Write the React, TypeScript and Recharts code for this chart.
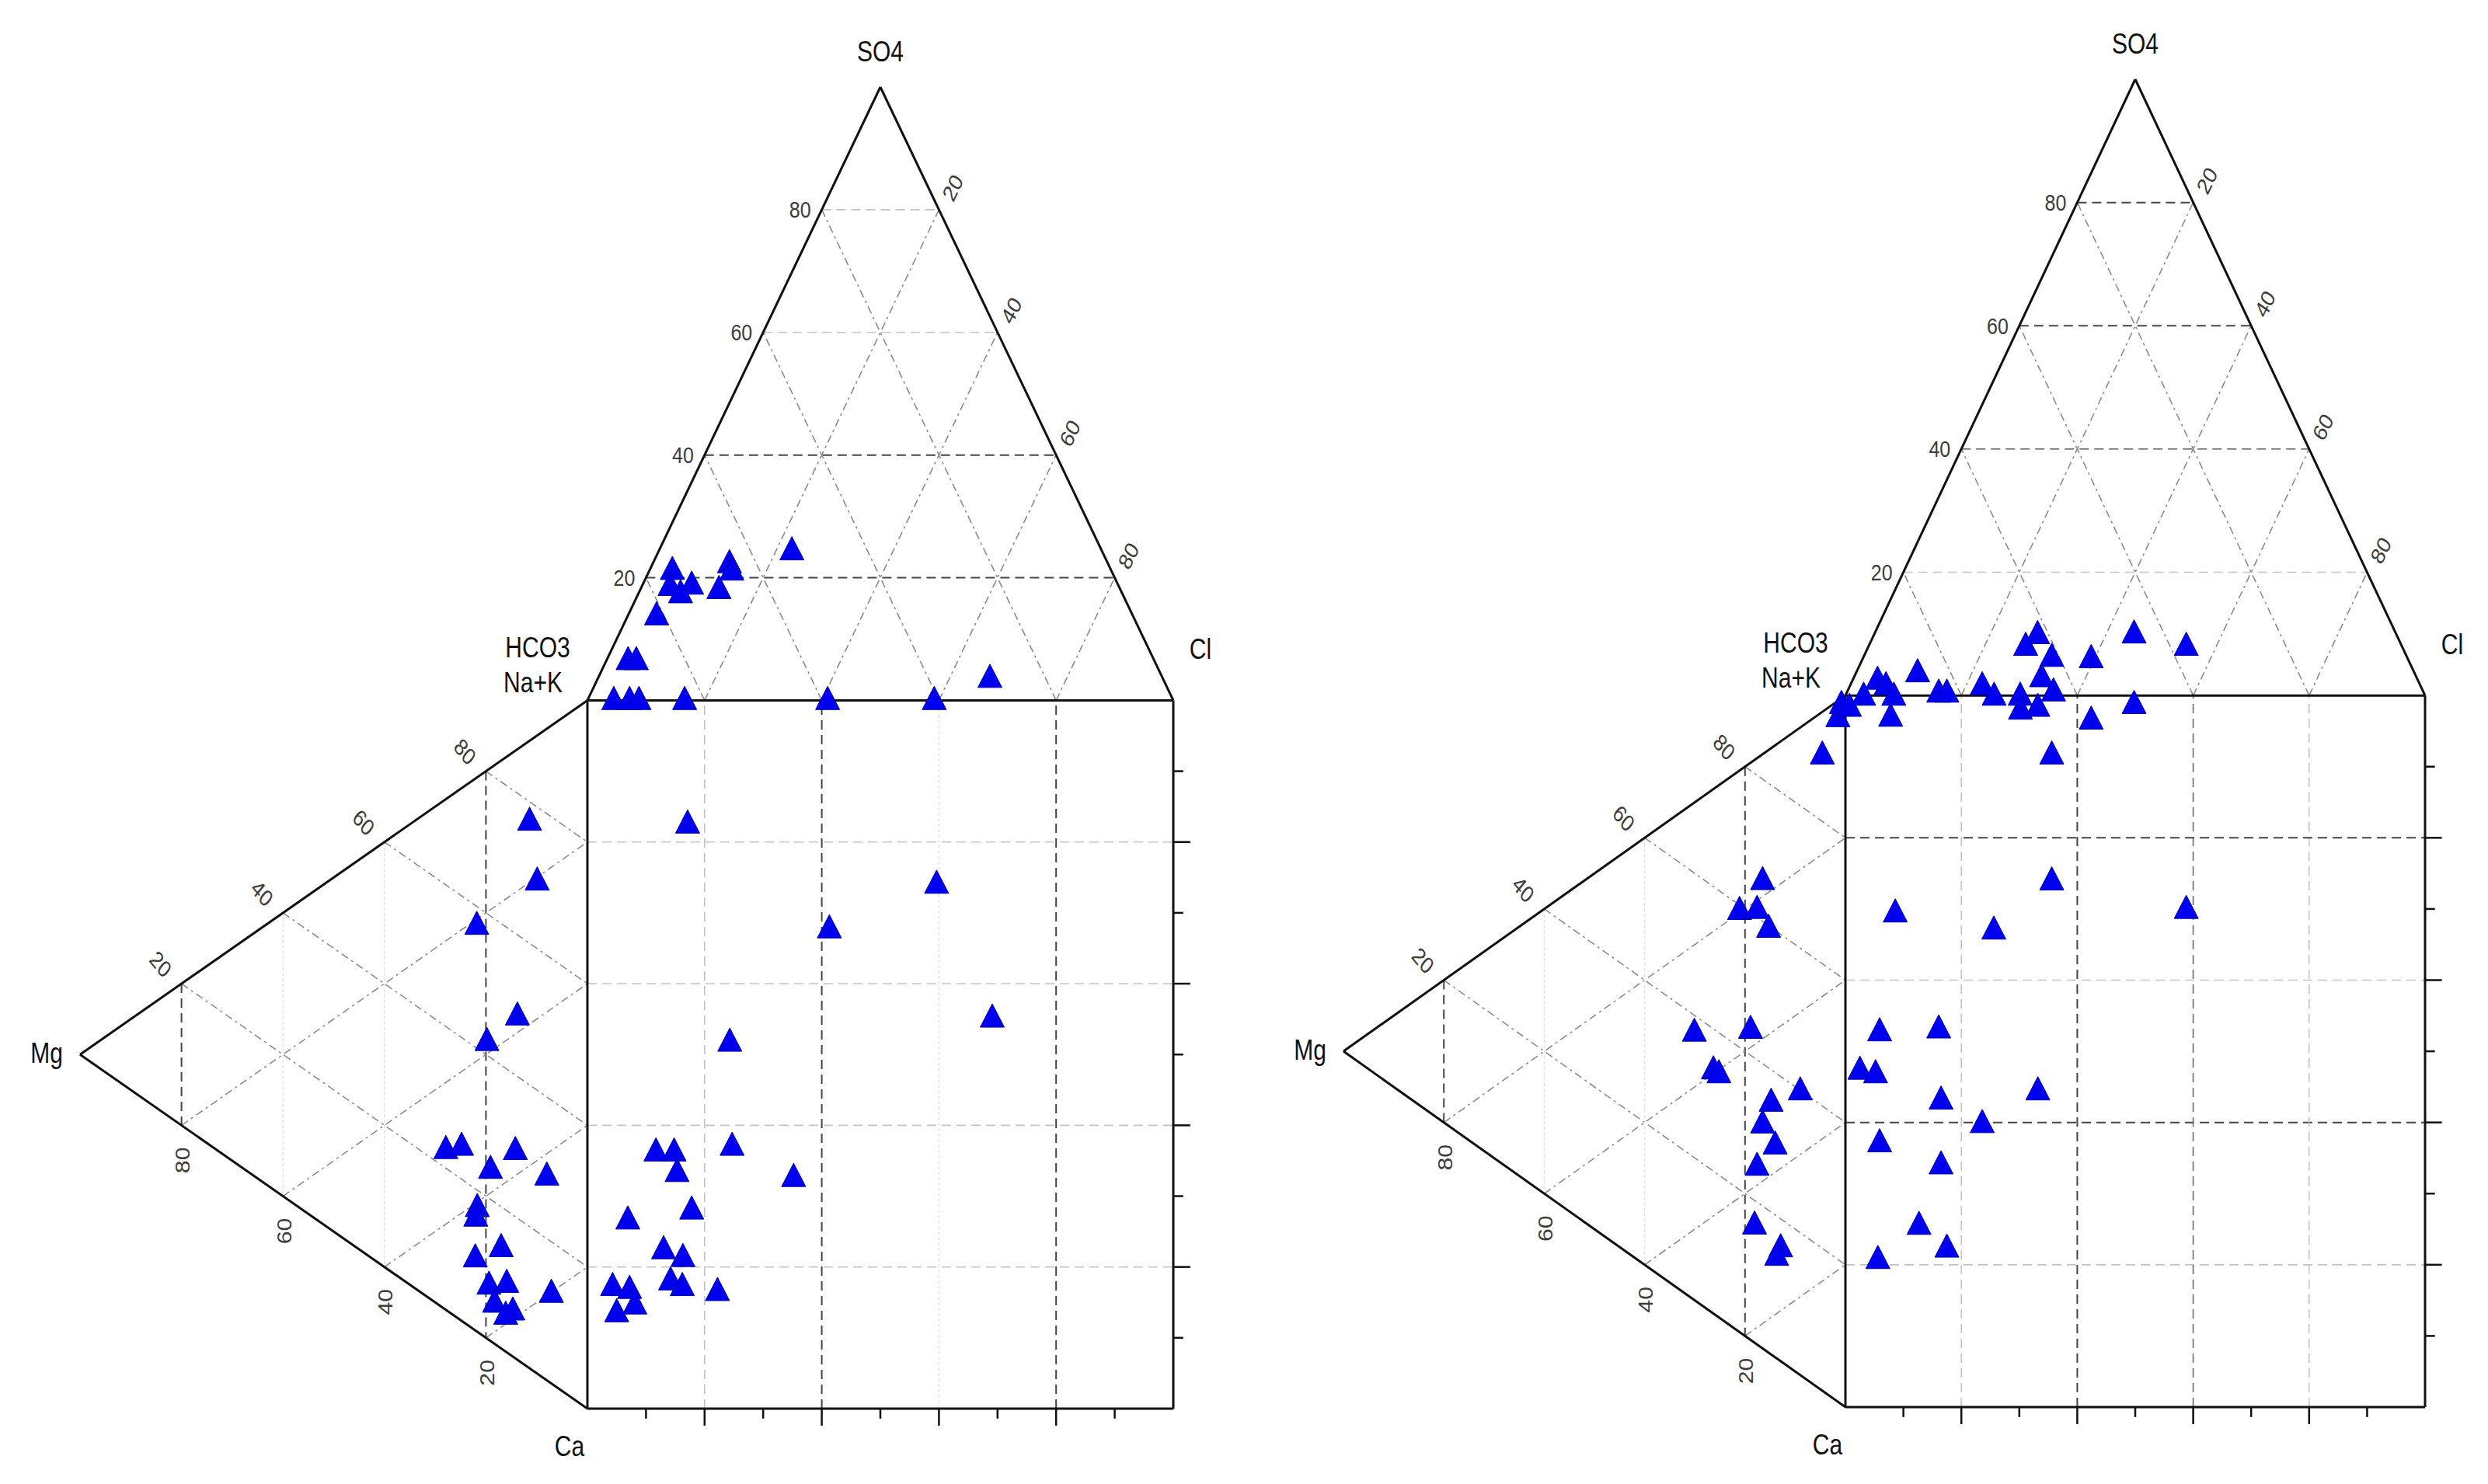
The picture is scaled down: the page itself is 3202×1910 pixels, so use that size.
import React from 'react';
import { ScatterChart, Scatter, XAxis, YAxis, ReferenceLine } from 'recharts';

// Durov layout: square is 0..100 on both axes, anion triangle sits on top,
// cation triangle on the left. H = height of an equilateral triangle of side 100.
const H = 86.6;
const LEVELS = [20, 40, 60, 80];
const LEVEL_LABELS = ['20', '40', '60', '80'];
const MINOR = [10, 30, 50, 70, 90];

// ---- left diagram ----
// cation triangle: [Mg %, Na+K %]
const leftCation = [
  [11.4, 77.6], [9.9, 69.9], [21.8, 57.7], [13.8, 48.9], [19.8, 42.3],
  [27.9, 23.0], [24.8, 25.0], [14.2, 29.7], [19.1, 24.6], [8.0, 29.2],
  [21.7, 17.9], [22.0, 16.4], [17.0, 14.6], [22.1, 10.6], [19.4, 8.1],
  [15.9, 10.1], [7.1, 13.1], [18.3, 6.1], [14.7, 6.8], [16.1, 5.5],
];
// anion triangle: [SO4 %, Cl %]
const leftAnion = [
  [24.8, 22.5], [21.6, 3.7], [19.0, 4.6], [19.2, 8.2], [17.8, 7.0],
  [22.7, 12.9], [21.5, 13.9], [18.5, 13.2], [14.2, 4.7], [6.9, 3.5],
  [6.9, 4.9], [0.4, 4.3], [0.4, 7.0], [0.4, 8.6], [0.4, 16.4],
  [0.4, 40.8], [0.4, 59.0], [4.0, 66.7],
];
// square: [anion position %, cation position %]
const leftSquare = [
  [17.1, 82.9], [59.6, 74.4], [41.3, 68.1], [69.1, 55.5], [24.3, 52.1],
  [24.7, 37.4], [11.7, 36.6], [14.8, 36.6], [15.3, 33.7], [35.2, 33.0],
  [17.8, 28.4], [6.9, 27.0], [13.0, 22.8], [16.3, 21.7], [14.2, 18.4],
  [16.2, 17.6], [22.2, 16.9], [4.3, 17.6], [7.2, 17.2], [8.1, 15.0], [5.0, 13.9],
];

// ---- right diagram ----
const rightCation = [
  [16.5, 66.1], [21.1, 59.6], [17.6, 61.5], [15.3, 60.0], [30.1, 38.0],
  [18.9, 44.0], [26.3, 34.6], [25.2, 34.6], [9.0, 40.3], [14.8, 35.8],
  [16.5, 31.9], [14.0, 30.2], [17.6, 25.4], [18.1, 16.9], [12.9, 16.3],
  [13.7, 14.7], [4.6, 89.7], [1.5, 96.5], [0.8, 98.7],
];
const rightAnion = [
  [10.3, 28.0], [8.4, 26.9], [6.6, 32.3], [6.4, 39.2], [10.4, 44.6],
  [8.4, 54.6], [4.1, 10.4], [2.9, 4.1], [2.0, 6.0], [3.3, 32.2],
  [2.0, 22.6], [1.0, 35.4], [0.3, 3.0], [0.3, 8.2], [0.8, 15.7],
  [0.8, 17.1], [0.3, 25.5], [0.3, 30.0],
];
const rightSquare = [
  [42.4, 96.9], [49.8, 99.1], [35.6, 92.0], [7.8, 97.3], [30.2, 98.3],
  [33.2, 98.7], [0.7, 98.7], [35.6, 74.3], [58.8, 70.3], [8.6, 69.8],
  [25.6, 67.4], [16.1, 53.5], [5.9, 53.1], [2.5, 47.7], [5.2, 47.2],
  [33.2, 44.8], [16.5, 43.5], [23.6, 40.2], [5.9, 37.5], [16.5, 34.4],
  [12.7, 25.9], [17.5, 22.7], [5.6, 21.1],
];

const toCation = ([mg, nak]: number[]) => ({ x: (-H * mg) / 100, y: nak + mg / 2 });
const toAnion = ([so4, cl]: number[]) => ({ x: cl + so4 / 2, y: 100 + (H * so4) / 100 });
const toSquare = ([a, c]: number[]) => ({ x: a, y: c });

const FONT = '"Liberation Sans", Arial, sans-serif';
const STRETCH = 1.21;

const OUTLINE = { stroke: '#111', strokeWidth: 3 };
const DARK = { stroke: '#454545', strokeWidth: 2, strokeDasharray: '12 7' };
const GRAY = { stroke: '#7a7a7a', strokeWidth: 1.8, strokeDasharray: '12 7' };
const MID = { stroke: '#8c8c8c', strokeWidth: 1.6, strokeDasharray: '10 5 3 5' };
const LIGHT = { stroke: '#c4c4c4', strokeWidth: 1.6, strokeDasharray: '12 7' };
const FAINT = { stroke: '#e4e4e4', strokeWidth: 1.5, strokeDasharray: '4 3' };

const leftStyle = {
  so4: [DARK, DARK, LIGHT, LIGHT],
  anionDiag: MID,
  squareV: [LIGHT, DARK, FAINT, DARK],
  squareH: [LIGHT, LIGHT, LIGHT, LIGHT],
  mg: [DARK, FAINT, FAINT, DARK],
  cationDiag: MID,
};
const rightStyle = {
  so4: [LIGHT, GRAY, DARK, DARK],
  anionDiag: MID,
  squareV: [LIGHT, DARK, GRAY, LIGHT],
  squareH: [LIGHT, DARK, LIGHT, DARK],
  mg: [DARK, FAINT, FAINT, DARK],
  cationDiag: MID,
};

type Pt = { x: number; y: number };
type Seg = { p: [Pt, Pt]; s: any };

function gridSegments(style: any): Seg[] {
  const segs: Seg[] = [];
  LEVELS.forEach((v, i) => {
    const f = v / 100;
    // anion triangle
    segs.push({ p: [{ x: 50 * f, y: 100 + H * f }, { x: 100 - 50 * f, y: 100 + H * f }], s: style.so4[i] });
    segs.push({ p: [{ x: 100 * f, y: 100 }, { x: 50 + 50 * f, y: 100 + H * (1 - f) }], s: style.anionDiag });
    segs.push({ p: [{ x: 100 * (1 - f), y: 100 }, { x: 50 * (1 - f), y: 100 + H * (1 - f) }], s: style.anionDiag });
    // square
    segs.push({ p: [{ x: v, y: 0 }, { x: v, y: 100 }], s: style.squareV[i] });
    segs.push({ p: [{ x: 0, y: v }, { x: 100, y: v }], s: style.squareH[i] });
    // cation triangle
    segs.push({ p: [{ x: -H * f, y: 100 - 50 * f }, { x: -H * f, y: 50 * f }], s: style.mg[i] });
    segs.push({ p: [{ x: -H * (1 - f), y: 50 * (1 - f) }, { x: 0, y: 100 * (1 - f) }], s: style.cationDiag });
    segs.push({ p: [{ x: -H * (1 - f), y: 100 * f + 50 * (1 - f) }, { x: 0, y: 100 * f }], s: style.cationDiag });
  });
  return segs;
}

const corners = {
  hco3: { x: 0, y: 100 },
  cl: { x: 100, y: 100 },
  so4: { x: 50, y: 100 + H },
  ca: { x: 0, y: 0 },
  sq: { x: 100, y: 0 },
  mg: { x: -H, y: 50 },
};
const outline: [Pt, Pt][] = [
  [corners.hco3, corners.so4], [corners.so4, corners.cl], [corners.hco3, corners.cl],
  [corners.ca, corners.sq], [corners.sq, corners.cl], [corners.ca, corners.hco3],
  [corners.hco3, corners.mg], [corners.mg, corners.ca],
];

function tickSegments(): Seg[] {
  const segs: Seg[] = [];
  const all = [...MINOR, ...LEVELS];
  all.forEach((v) => {
    const major = LEVELS.includes(v);
    const s = { stroke: '#111', strokeWidth: 2.5 };
    segs.push({ p: [{ x: v, y: 0 }, { x: v, y: major ? -2.4 : -1.4 }], s });
    segs.push({ p: [{ x: 100, y: v }, { x: major ? 102.9 : 101.7, y: v }], s });
  });
  return segs;
}

type Lbl = Pt & { text: string; dx: number; dy: number; angle: number; anchor: string; size: number; fill: string };

function buildLabels(): Lbl[] {
  const L: Lbl[] = [];
  const axis = (p: Pt, text: string, dx: number, dy: number) =>
    L.push({ ...p, text, dx, dy, angle: 0, anchor: 'middle', size: 30, fill: '#111' });
  const tick = (x: number, y: number, text: string, dx: number, dy: number, angle: number, anchor = 'middle') =>
    L.push({ x, y, text, dx, dy, angle, anchor, size: 25, fill: '#3c3c3c' });

  axis(corners.so4, 'SO4', 0, -46);
  axis(corners.cl, 'Cl', 35, -66);
  axis(corners.hco3, 'HCO3', -64, -68);
  axis(corners.hco3, 'Na+K', -70, -23);
  axis(corners.mg, 'Mg', -43, -2);
  axis(corners.ca, 'Ca', -23, 48);

  LEVELS.forEach((v, i) => {
    const f = v / 100;
    const t = LEVEL_LABELS[i];
    tick(50 * f, 100 + H * f, t, -14, 0, 0, 'end'); // SO4 on left edge of anion triangle
    tick(50 + 50 * f, 100 + H * (1 - f), t, 18, -28, -60); // Cl on right edge
    tick(-H * (1 - f), 50 + 50 * f, t, -27, -25, 45); // Na+K on upper edge of cation triangle
    tick(-H * f, 50 * f, t, 2, 45, -90); // Mg on lower edge
  });
  return L;
}

const Tri = (props: any) => {
  const { cx, cy } = props;
  if (cx == null || cy == null) return <g />;
  return (
    <polygon
      points={`${cx},${cy - 15} ${cx - 15.5},${cy + 15} ${cx + 15.5},${cy + 15}`}
      fill="#0000ee"
      stroke="#0000a8"
      strokeWidth={1}
    />
  );
};

const LabelShape = (props: any) => {
  const { cx, cy, payload } = props;
  const l = payload as Lbl;
  return (
    <text
      transform={`translate(${cx + l.dx},${cy + l.dy}) scale(1,${STRETCH}) rotate(${l.angle})`}
      textAnchor={l.anchor as any}
      dominantBaseline="central"
      fontSize={l.size}
      fontFamily={FONT}
      fill={l.fill}
    >
      {l.text}
    </text>
  );
};

function Durov(props: {
  width: number;
  height: number;
  margin: { top: number; right: number; bottom: number; left: number };
  style: any;
  cation: number[][];
  anion: number[][];
  square: number[][];
}) {
  const { width, height, margin, style, cation, anion, square } = props;
  const grid = gridSegments(style);
  const ticks = tickSegments();
  const labels = buildLabels();
  return (
    <ScatterChart width={width} height={height} margin={margin}>
      <XAxis type="number" dataKey="x" domain={[-H, 100]} hide />
      <YAxis type="number" dataKey="y" domain={[0, 100 + H]} hide />
      {grid.map((g, i) => (
        <ReferenceLine key={`g${i}`} segment={g.p} ifOverflow="visible" {...g.s} />
      ))}
      {outline.map((p, i) => (
        <ReferenceLine key={`o${i}`} segment={p} ifOverflow="visible" {...OUTLINE} />
      ))}
      {ticks.map((t, i) => (
        <ReferenceLine key={`t${i}`} segment={t.p} ifOverflow="visible" {...t.s} />
      ))}
      <Scatter data={labels} shape={LabelShape} isAnimationActive={false} />
      <Scatter data={cation.map(toCation)} shape={Tri} isAnimationActive={false} />
      <Scatter data={anion.map(toAnion)} shape={Tri} isAnimationActive={false} />
      <Scatter data={square.map(toSquare)} shape={Tri} isAnimationActive={false} />
    </ScatterChart>
  );
}

export default function App() {
  return (
    <div style={{ position: 'absolute', left: 0, top: 0, width: 3202, height: 1910, background: '#fff' }}>
      <div style={{ position: 'absolute', left: 0, top: 0 }}>
        <Durov
          width={1600}
          height={1910}
          margin={{ top: 112, right: 90, bottom: 97, left: 103 }}
          style={leftStyle}
          cation={leftCation}
          anion={leftAnion}
          square={leftSquare}
        />
      </div>
      <div style={{ position: 'absolute', left: 1600, top: 0 }}>
        <Durov
          width={1602}
          height={1910}
          margin={{ top: 102, right: 81, bottom: 99, left: 129 }}
          style={rightStyle}
          cation={rightCation}
          anion={rightAnion}
          square={rightSquare}
        />
      </div>
    </div>
  );
}
